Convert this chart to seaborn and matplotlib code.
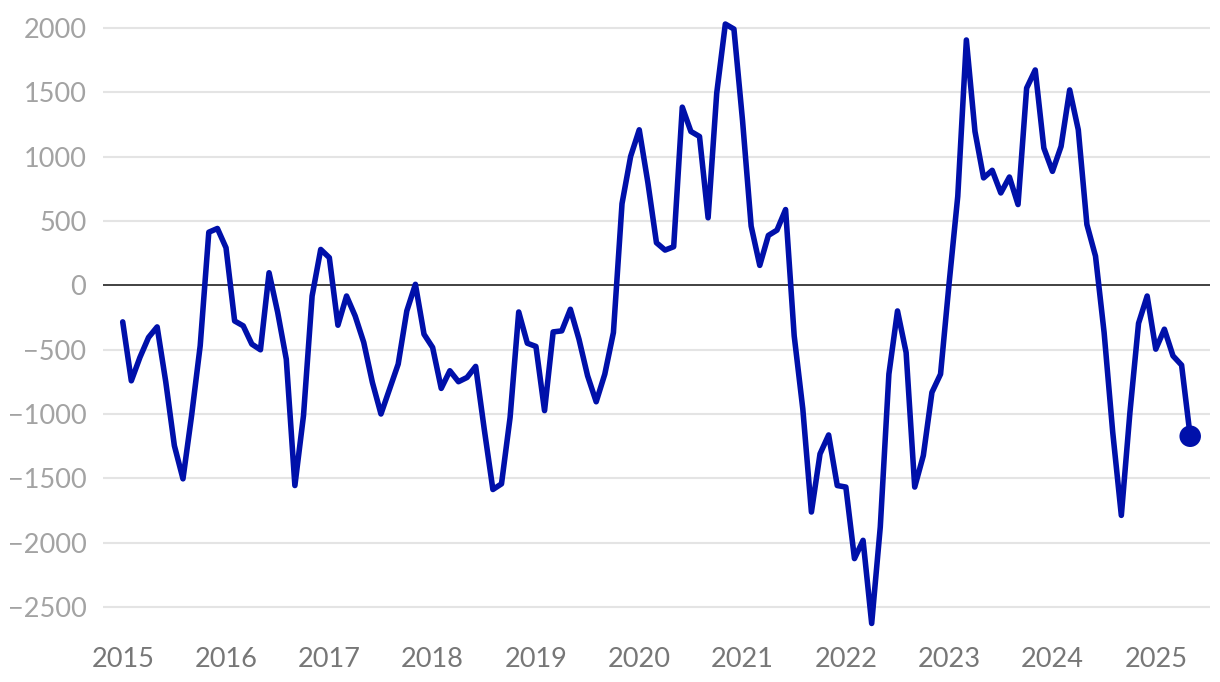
import numpy as np
import pandas as pd
import matplotlib
matplotlib.use("Agg")
import matplotlib.pyplot as plt
import seaborn as sns

# Monthly values, Jan 2015 .. May 2025
values_2015 = [-284, -742, -560, -405, -323, -750, -1246, -1504, -1013, -470, 413, 442]
values_2016 = [292, -277, -315, -457, -501, 98, -210, -574, -1556, -1013, -83, 279]
values_2017 = [215, -310, -83, -238, -444, -754, -1000, -806, -612, -199, 8, -380]
values_2018 = [-483, -801, -664, -749, -716, -630, -1120, -1587, -1543, -1026, -207, -450]
values_2019 = [-475, -974, -362, -354, -186, -419, -703, -905, -690, -367, 635, 1002]
values_2020 = [1209, 800, 331, 274, 300, 1385, 1196, 1157, 525, 1494, 2031, 1992]
values_2021 = [1280, 460, 155, 388, 429, 589, -393, -961, -1762, -1310, -1163, -1556]
values_2022 = [-1568, -2124, -1982, -2628, -1878, -690, -199, -522, -1568, -1323, -832, -690]
values_2023 = [20, 692, 1907, 1196, 835, 894, 718, 842, 628, 1533, 1674, 1067]
values_2024 = [886, 1080, 1519, 1209, 473, 227, -367, -1142, -1788, -987, -295, -83]
values_2025 = [-496, -341, -548, -620, -1173]

year_ticks = list(range(2015, 2026))
y_ticks = [2000, 1500, 1000, 500, 0, -500, -1000, -1500, -2000, -2500]

values = (values_2015 + values_2016 + values_2017 + values_2018 + values_2019 +
          values_2020 + values_2021 + values_2022 + values_2023 + values_2024 + values_2025)
t = 2015 + np.arange(len(values)) / 12.0
df = pd.DataFrame({"t": t, "v": values})

sns.set_theme(style="white")
plt.rcParams["font.family"] = ["Lato", "DejaVu Sans"]

fig = plt.figure(figsize=(12.2, 6.82), dpi=100)
ax = fig.add_axes([103 / 1220, 1 - 630 / 682, (1210 - 103) / 1220, (630 - 5) / 682])

line_color = "#0010AA"
for yv in y_ticks:
    if yv != 0:
        ax.axhline(yv, color="#e4e4e4", lw=1.5, zorder=0)
ax.axhline(0, color="#333333", lw=1.3, zorder=1)

sns.lineplot(data=df, x="t", y="v", ax=ax, color=line_color, lw=4.0, zorder=3)
last = df.iloc[[-1]]
sns.scatterplot(data=last, x="t", y="v", ax=ax, color=line_color, s=240,
                edgecolor="none", zorder=4)

ax.set_xlim(2015 - 2.29 / 12, 2015 + 126.3 / 12)
ax.set_ylim(-2679, 2179)
ax.set_xticks(year_ticks)
ax.set_xticklabels([str(y) for y in year_ticks])
ax.set_yticks(y_ticks)
ax.set_yticklabels([str(y).replace("-", "\u2212") for y in y_ticks])
ax.tick_params(axis="y", length=0, pad=12, labelsize=19.5, labelcolor="#a3a3a3")
ax.tick_params(axis="x", length=0, pad=12, labelsize=19.5, labelcolor="#777777")
ax.set_xlabel("")
ax.set_ylabel("")
for s in ax.spines.values():
    s.set_visible(False)
ax.grid(False)

fig.savefig("out.png", dpi=100)
